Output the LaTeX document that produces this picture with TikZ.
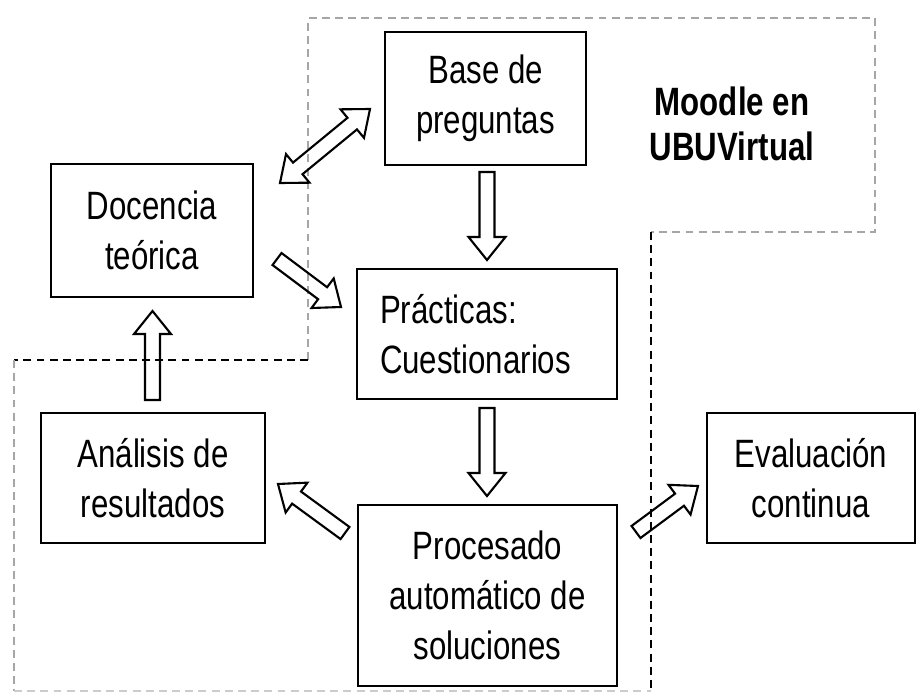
\documentclass[tikz,border=0pt]{standalone}
\usepackage{fontspec}
\setmainfont{Liberation Sans}[FakeStretch=0.79]
\usetikzlibrary{calc}

% hollow block arrow from #1 to #2
\newcommand\blockarrow[2]{%
  \coordinate (bh) at ($(#2)!0.46cm!(#1)$);
  \draw[blockarr] ($(#1)!0.15cm!90:(#2)$) -- ($(bh)!0.15cm!90:(#2)$)
    -- ($(bh)!0.37cm!90:(#2)$) -- (#2) -- ($(bh)!0.37cm!-90:(#2)$)
    -- ($(bh)!0.15cm!-90:(#2)$) -- ($(#1)!0.15cm!-90:(#2)$) -- cycle;}
% hollow block arrow with two heads
\newcommand\blockdarrow[2]{%
  \coordinate (bh1) at ($(#1)!0.46cm!(#2)$);
  \coordinate (bh2) at ($(#2)!0.46cm!(#1)$);
  \draw[blockarr] (#1) -- ($(bh1)!0.37cm!90:(#2)$) -- ($(bh1)!0.15cm!90:(#2)$)
    -- ($(bh2)!0.15cm!90:(#2)$) -- ($(bh2)!0.37cm!90:(#2)$) -- (#2)
    -- ($(bh2)!0.37cm!-90:(#2)$) -- ($(bh2)!0.15cm!-90:(#2)$)
    -- ($(bh1)!0.15cm!-90:(#2)$) -- ($(bh1)!0.37cm!-90:(#2)$) -- cycle;}

\begin{document}
\begin{tikzpicture}[x=0.02cm,y=-0.02cm,
    box/.style={draw,line width=1.2pt,align=center,minimum height=2.6cm},
    blockarr/.style={draw,line width=1.2pt,line join=miter},
    dashdark/.style={line width=1.2pt,dash pattern=on 4.5pt off 3pt},
    dashlight/.style={gray!70,line width=1.2pt,dash pattern=on 4.5pt off 3pt},
    every node/.style={font=\fontsize{22.5}{28.4}\selectfont}]
  \useasboundingbox (0,0) rectangle (917,697);

  % dashed frame of the Moodle part
  \draw[dashlight] (308,360) -- (308,18) -- (875,18) -- (875,232) -- (651,232);
  \draw[dashdark] (651,232) -- (651,691);
  \draw[dashdark] (308,360) -- (14,360);
  \draw[dashlight] (14,360) -- (14,691);
  \draw[gray!40,line width=1pt,dash pattern=on 4.5pt off 3pt] (14,691) -- (651,691);

  \node[font=\fontsize{22.5}{26}\selectfont\bfseries,align=center] (moodle) at (732,124) {Moodle en\\UBUVirtual};

  \node[box,minimum width=4.02cm,minimum height=2.66cm] (base) at (485.5,98.5) {Base de\\preguntas};
  \node[box,minimum width=4.04cm,minimum height=2.66cm] (docencia) at (152,230.5) {Docencia\\teórica};
  \node[box,minimum width=5.2cm,text width=4.28cm,align=left] (practicas) at (487,334) {Prácticas:\\Cuestionarios};
  \node[box,minimum width=4.48cm] (analisis) at (153,478) {Análisis de\\resultados};
  \node[box,minimum width=5.18cm,minimum height=3.62cm] (procesado) at (487.5,595.5) {Procesado\\automático de\\soluciones};
  \node[box,minimum width=4.16cm] (evaluacion) at (811,478) {Evaluación\\continua};

  % arrow ends
  \coordinate (bp1) at (487,172);  \coordinate (bp2) at (487,260);
  \coordinate (pr1) at (487,408);  \coordinate (pr2) at (487,496);
  \coordinate (dp1) at (277,259);  \coordinate (dp2) at (341,307);
  \coordinate (db1) at (280,183);  \coordinate (db2) at (370,109);
  \coordinate (ad1) at (152.5,400); \coordinate (ad2) at (152.5,311);
  \coordinate (ra1) at (345,533);  \coordinate (ra2) at (278,484);
  \coordinate (re1) at (636,532);  \coordinate (re2) at (698,486);

  \blockarrow{bp1}{bp2}
  \blockarrow{pr1}{pr2}
  \blockarrow{dp1}{dp2}
  \blockdarrow{db1}{db2}
  \blockarrow{ad1}{ad2}
  \blockarrow{ra1}{ra2}
  \blockarrow{re1}{re2}
\end{tikzpicture}
\end{document}
